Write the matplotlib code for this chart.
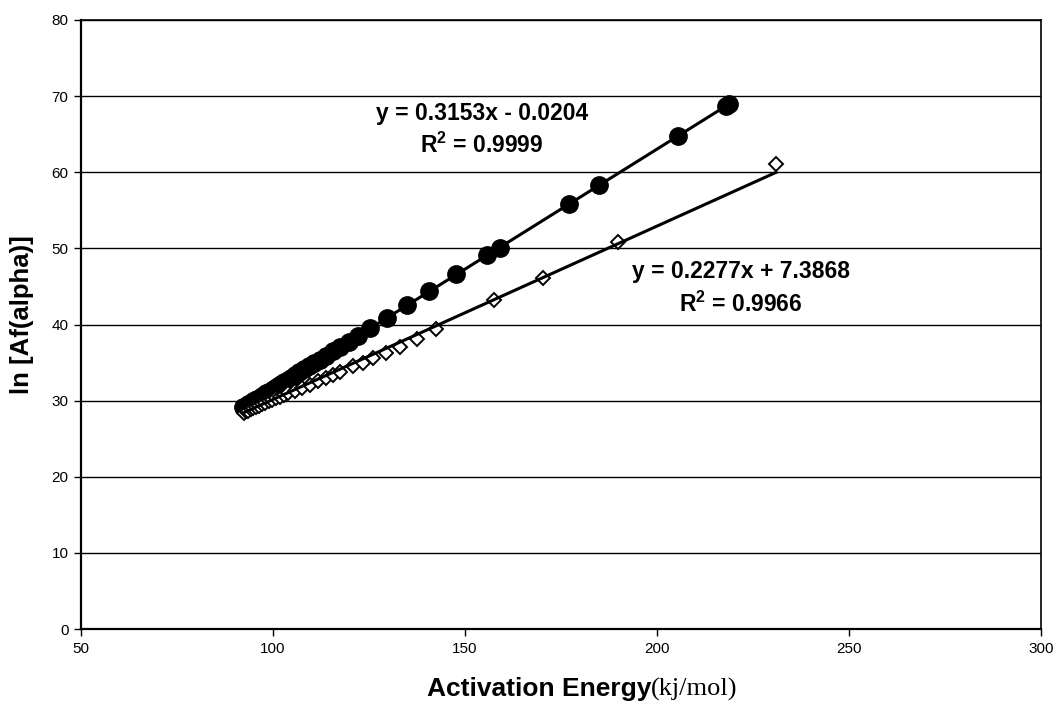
import matplotlib
matplotlib.use("Agg")
import matplotlib.pyplot as plt
import numpy as np

# ---- data ----
circle_x = [92.3, 92.7, 93.1, 93.5, 93.9, 94.4, 94.9, 95.4, 95.9, 96.5, 97.1, 97.7,
            98.3, 99.0, 99.7, 100.4, 101.2, 102.0, 102.9, 103.8, 104.8, 105.8, 106.9,
            108.1, 109.4, 110.8, 112.3, 113.9, 115.6, 117.5, 119.7, 122.2, 125.3,
            129.6, 135.0, 140.7, 147.7, 155.6, 159.0, 177.0, 185.0, 205.5, 218.0, 218.8]
circle_y = [29.1, 29.2, 29.3, 29.5, 29.6, 29.7, 29.9, 30.1, 30.2, 30.4, 30.6, 30.8,
            31.0, 31.2, 31.4, 31.7, 31.9, 32.2, 32.4, 32.7, 33.0, 33.4, 33.7,
            34.1, 34.5, 34.9, 35.4, 35.9, 36.5, 37.0, 37.7, 38.5, 39.5,
            40.9, 42.6, 44.4, 46.6, 49.1, 50.1, 55.8, 58.3, 64.8, 68.7, 69.0]

diamond_x = [92.5, 93.0, 93.6, 94.2, 94.9, 95.6, 96.4, 97.2, 98.0, 98.9, 99.8, 100.8,
             101.8, 102.9, 104.0, 105.7, 107.5, 109.6, 111.8, 113.9, 115.7, 117.4,
             120.9, 123.5, 126.1, 129.3, 133.0, 137.4, 142.5, 157.5, 170.3, 189.9, 231.0]
diamond_y = [28.4, 28.6, 28.7, 28.9, 29.0, 29.2, 29.3, 29.5, 29.7, 29.9, 30.1, 30.3,
             30.5, 30.8, 31.0, 31.3, 31.7, 32.1, 32.6, 33.0, 33.4, 33.8,
             34.5, 35.0, 35.6, 36.2, 37.0, 38.1, 39.4, 43.2, 46.1, 50.9, 61.1]

circle_fit = (0.3153, -0.0204)
diamond_fit = (0.2277, 7.3868)
circle_label = ["y = 0.3153x - 0.0204", "R$^{2}$ = 0.9999"]
diamond_label = ["y = 0.2277x + 7.3868", "R$^{2}$ = 0.9966"]

x_ticks = [50, 100, 150, 200, 250, 300]
y_ticks = [0, 10, 20, 30, 40, 50, 60, 70, 80]

# ---- figure ----
plt.rcParams['font.family'] = ['Liberation Sans', 'DejaVu Sans']
plt.rcParams['mathtext.fontset'] = 'custom'
plt.rcParams['mathtext.rm'] = 'Liberation Sans:bold'
plt.rcParams['mathtext.it'] = 'Liberation Sans:bold'
plt.rcParams['mathtext.bf'] = 'Liberation Sans:bold'

fig = plt.figure(figsize=(10.56, 7.04), dpi=100)
ax = fig.add_axes([0.0767, 0.1065, 0.9091, 0.8651])

ax.plot(circle_x, circle_y, linestyle='none', marker='o', markersize=12.5,
        markerfacecolor='black', markeredgecolor='black', zorder=3)
ax.plot(diamond_x, diamond_y, linestyle='none', marker='D', markersize=7.3,
        markerfacecolor='white', markeredgecolor='black', markeredgewidth=1.4, zorder=4)

cx = np.array([min(circle_x), max(circle_x)])
ax.plot(cx, circle_fit[0] * cx + circle_fit[1], color='black', linewidth=2.2, zorder=5)
dx = np.array([min(diamond_x), max(diamond_x)])
ax.plot(dx, diamond_fit[0] * dx + diamond_fit[1], color='black', linewidth=2.2, zorder=5)

fs = 16.5
ax.text(154.4, 67.7, circle_label[0], ha='center', va='center', fontsize=fs, fontweight='bold', zorder=6)
ax.text(154.4, 63.5, circle_label[1], ha='center', va='center', fontsize=fs, fontweight='bold', zorder=6)
ax.text(221.9, 46.9, diamond_label[0], ha='center', va='center', fontsize=fs, fontweight='bold', zorder=6)
ax.text(221.9, 42.7, diamond_label[1], ha='center', va='center', fontsize=fs, fontweight='bold', zorder=6)

ax.set_xlim(50, 300)
ax.set_ylim(0, 80)
ax.set_xticks(x_ticks)
ax.set_yticks(y_ticks)
ax.tick_params(axis='both', direction='out', length=5, width=1, labelsize=11, colors='black')
ax.tick_params(axis='x', pad=4)
ax.tick_params(axis='y', pad=4)
ax.yaxis.grid(True, color='black', linewidth=1)
ax.set_axisbelow(True)
for s in ax.spines.values():
    s.set_color('black')
    s.set_linewidth(1.2)
ax.spines['left'].set_linewidth(1.6)
ax.spines['bottom'].set_linewidth(1.6)

fig.text(651 / 1056, 0.012, "Activation Energy", ha='right', va='baseline',
         fontsize=19, fontweight='bold')
fig.text(651 / 1056, 0.012, "(kj/mol)", ha='left', va='baseline',
         fontsize=19, family=['Liberation Serif', 'DejaVu Serif'])
fig.text(0.0208, 0.5526, "ln [Af(alpha)]", rotation=90, ha='center', va='center',
         fontsize=18.5, fontweight='bold')

fig.savefig("out.png", dpi=100)
